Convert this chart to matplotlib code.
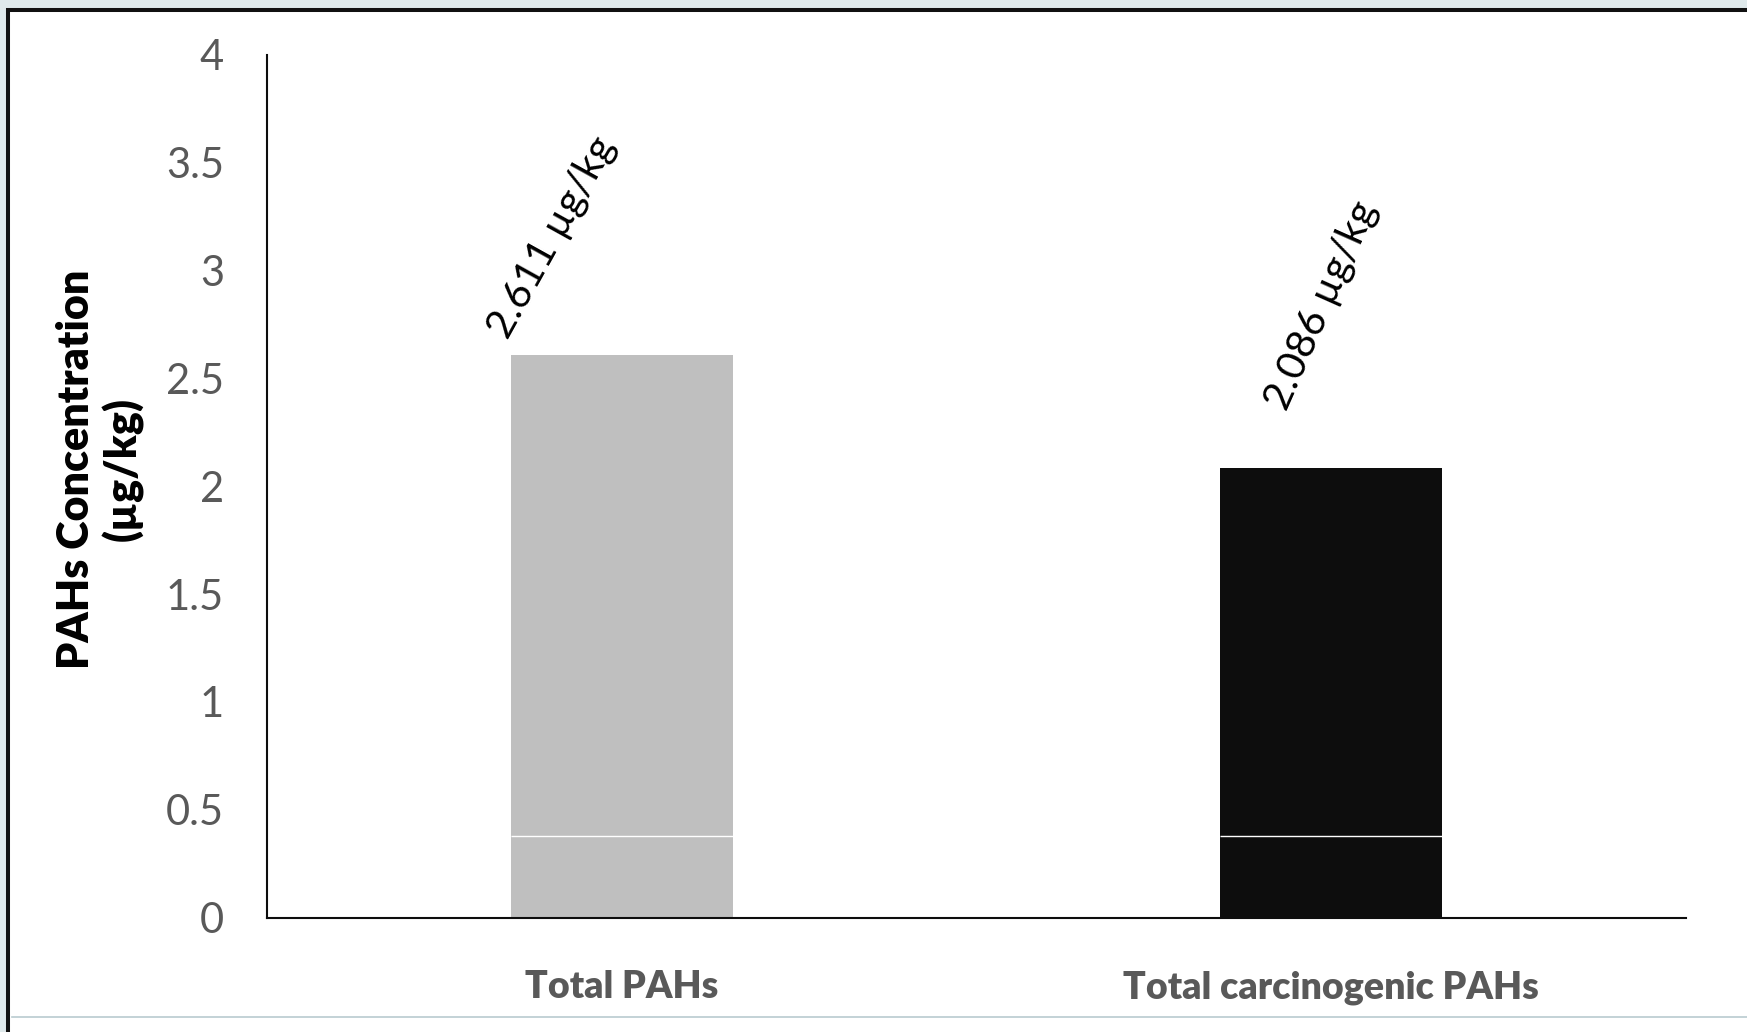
import matplotlib.pyplot as plt
from matplotlib.patches import Rectangle
from matplotlib.lines import Line2D

# data
categories = ["Total PAHs", "Total carcinogenic PAHs"]
values = [2.611, 2.086]
value_labels = ["2.611 µg/kg", "2.086 µg/kg"]
y_ticks = [0, 0.5, 1, 1.5, 2, 2.5, 3, 3.5, 4]
y_tick_labels = ["0", "0.5", "1", "1.5", "2", "2.5", "3", "3.5", "4"]
split_level = 0.38  # thin white line across the bars

bar_colors = ["#bfbfbf", "#0d0d0d"]
label_offsets = [(-82, 10), (-32, 40)]  # points, from bar top centre
label_rotations = [61, 66]

plt.rcParams["font.family"] = ["Lato", "DejaVu Sans"]

W, H = 1747, 1032
fig = plt.figure(figsize=(W / 100, H / 100), dpi=100)
fig.patch.set_facecolor("#dfe9eb")

# white slide frame with black border, behind everything
frame = Rectangle((8 / W, -0.05), 1.1, 1 - 10 / H + 0.05, transform=fig.transFigure,
                  facecolor="white", edgecolor="#111111", linewidth=2.9, zorder=-10)
fig.patches.append(frame)
fig.lines.append(Line2D([12 / W, 1], [1 - 1017 / H] * 2, transform=fig.transFigure,
                        color="#b9cbcf", linewidth=1.2, zorder=-5))

ax = fig.add_axes([267 / W, 1 - 917.5 / H, (1686 - 267) / W, (917.5 - 55) / H])
ax.set_facecolor("none")
ax.set_zorder(5)

x = list(range(len(categories)))
width = 0.313
bars = ax.bar(x, values, width=width, color=bar_colors, zorder=2)

# thin white divider seen in the original bars
for b in bars:
    ax.hlines(split_level, b.get_x(), b.get_x() + b.get_width(), colors="white",
              linewidth=1.0, zorder=3)

for xi, v, lab, off, rot in zip(x, values, value_labels, label_offsets, label_rotations):
    ax.annotate(lab, xy=(xi, v), xytext=off, textcoords="offset points",
                rotation=rot, rotation_mode="anchor", ha="left", va="baseline",
                fontsize=29.5, color="black")

ax.set_xlim(-0.5, len(categories) - 0.5)
ax.set_ylim(0, 4)
ax.set_yticks(y_ticks)
ax.set_yticklabels(y_tick_labels, fontsize=30, color="#595959")
ax.set_xticks(x)
ax.set_xticklabels(categories, fontsize=27, fontweight="heavy", color="#595959")
ax.tick_params(axis="y", length=0, pad=31)
ax.tick_params(axis="x", length=0, pad=38)

for s in ["top", "right"]:
    ax.spines[s].set_visible(False)
for s in ["left", "bottom"]:
    ax.spines[s].set_color("#0d0d0d")
    ax.spines[s].set_linewidth(1.5)

fig.text(100 / W, 1 - 469 / H, "PAHs Concentration\n(µg/kg)", rotation=90,
         ha="center", va="center", fontsize=31, fontweight="heavy", color="black",
         linespacing=1.15, zorder=6)

fig.savefig("out.png", dpi=100, facecolor=fig.get_facecolor())
